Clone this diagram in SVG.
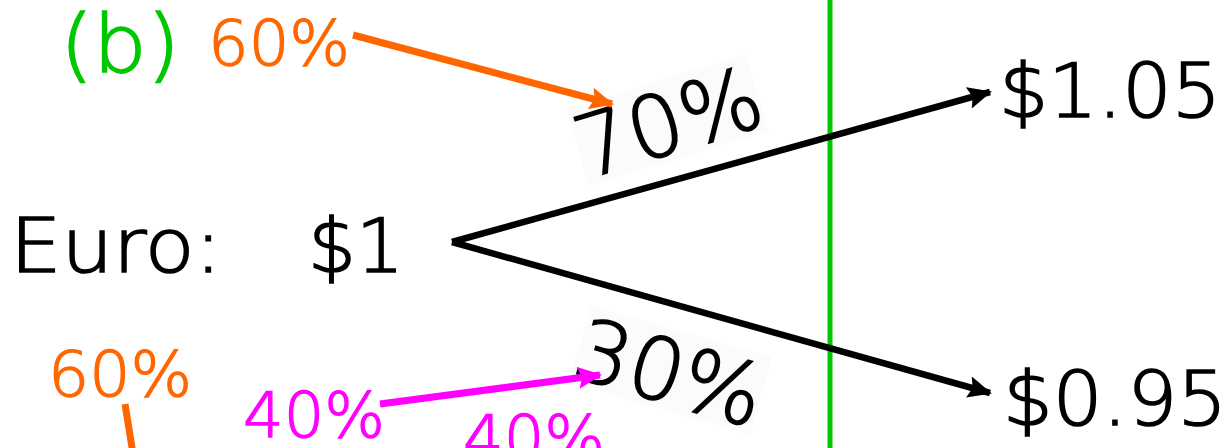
<svg xmlns="http://www.w3.org/2000/svg" width="1230" height="448" viewBox="0 0 1230 448">
<style>
text{font-family:"DejaVu Sans",sans-serif;font-weight:200;}
.big{font-size:74px;fill:#000;stroke:#000;stroke-width:1.6;}
.pct{font-size:63px;stroke-width:1.3;}
.rot{font-size:86px;fill:#000;stroke:#000;stroke-width:1.6;}
.blk{stroke:#000;stroke-width:6.5;fill:none;}
.org{stroke:#ff6600;stroke-width:7;fill:none;}
.mag{stroke:#ff00ff;stroke-width:7;fill:none;}
.bg{fill:#fbfbfb;}
</style>
<defs>
<marker id="ab" viewBox="0 0 24 22" refX="22" refY="11" markerWidth="24" markerHeight="22" orient="auto" markerUnits="userSpaceOnUse"><path d="M0,0 L24,11 L0,22 L4,11 z" fill="#000"/></marker>
<marker id="ao" viewBox="0 0 24 22" refX="22" refY="11" markerWidth="24" markerHeight="22" orient="auto" markerUnits="userSpaceOnUse"><path d="M0,0 L24,11 L0,22 L4,11 z" fill="#ff6600"/></marker>
<marker id="am" viewBox="0 0 24 22" refX="22" refY="11" markerWidth="24" markerHeight="22" orient="auto" markerUnits="userSpaceOnUse"><path d="M0,0 L24,11 L0,22 L4,11 z" fill="#ff00ff"/></marker>
</defs>
<rect width="1230" height="448" fill="#fff"/>
<g id="divider"><line x1="830" y1="0" x2="830" y2="448" stroke="#00c800" stroke-width="5"/></g>
<g id="label-b"><text x="60" y="72" font-size="80" fill="#00c800" stroke="#00c800" stroke-width="1.6" textLength="120" lengthAdjust="spacingAndGlyphs">(b)</text></g>
<g id="prob-up"><g transform="translate(668,122) rotate(-17)"><rect class="bg" x="-94" y="-42" width="188" height="80"/><text class="rot" x="0" y="31" text-anchor="middle">70%</text></g></g>
<g id="prob-down"><g transform="translate(670,372) rotate(16)"><rect class="bg" x="-94" y="-42" width="188" height="80"/><text class="rot" x="0" y="31" text-anchor="middle">30%</text></g></g>
<g id="connectors">
<line class="blk" x1="452" y1="242" x2="990" y2="92" marker-end="url(#ab)"/>
<line class="blk" x1="452" y1="242" x2="990" y2="393" marker-end="url(#ab)"/>
<line class="org" x1="353" y1="35" x2="612" y2="104" marker-end="url(#ao)"/>
<line class="mag" x1="380" y1="404" x2="600" y2="375" marker-end="url(#am)"/>
<line class="org" x1="125" y1="404" x2="134" y2="460"/>
</g>
<g id="euro"><text class="big" x="10" y="272" textLength="212" lengthAdjust="spacingAndGlyphs">Euro:</text><text class="big" x="308" y="272" textLength="96" lengthAdjust="spacingAndGlyphs">$1</text></g>
<g id="up"><text class="big" x="999" y="117" textLength="222" lengthAdjust="spacingAndGlyphs">$1.05</text></g>
<g id="down"><text class="big" x="1003" y="425" textLength="224" lengthAdjust="spacingAndGlyphs">$0.95</text></g>
<g id="pct-top"><text class="pct" x="208" y="65" fill="#ff6600" stroke="#ff6600" textLength="142" lengthAdjust="spacingAndGlyphs">60%</text></g>
<g id="pct-left"><text class="pct" x="48" y="396" fill="#ff6600" stroke="#ff6600" textLength="144" lengthAdjust="spacingAndGlyphs">60%</text></g>
<g id="pct-mag1"><text class="pct" x="243" y="437" fill="#ff00ff" stroke="#ff00ff" textLength="142" lengthAdjust="spacingAndGlyphs">40%</text></g>
<g id="pct-mag2"><text class="pct" x="463" y="460" fill="#ff00ff" stroke="#ff00ff" textLength="142" lengthAdjust="spacingAndGlyphs">40%</text></g>
</svg>
